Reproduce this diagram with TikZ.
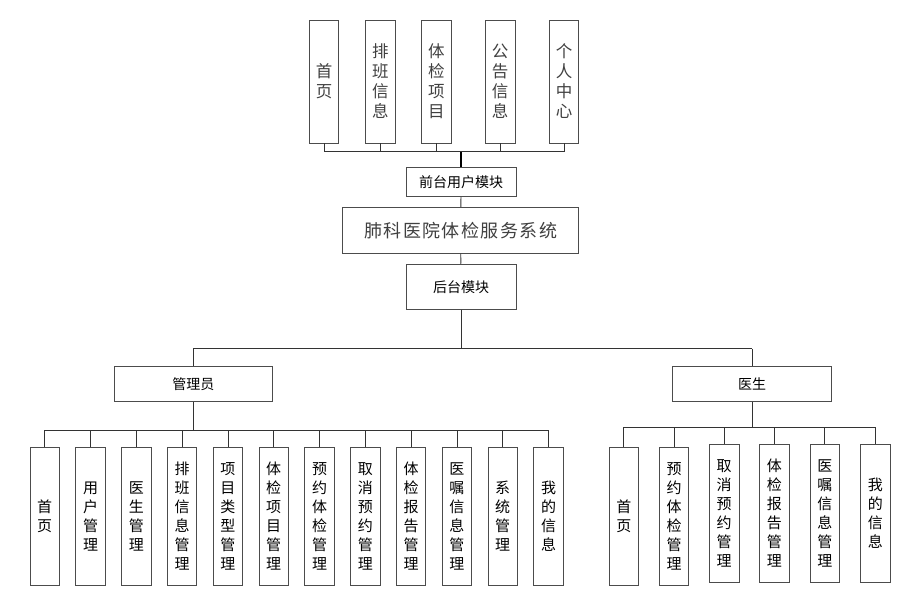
\documentclass[tikz,border=0pt]{standalone}
\usepackage{fontspec}
\newfontfamily\cjk{Noto Sans CJK SC}
\newfontfamily\cjkwide[LetterSpace=8]{Noto Sans CJK SC}
\begin{document}
\begin{tikzpicture}[x=1pt,y=-1pt,
  box/.style={draw=black!70, line width=0.9pt, fill=white, inner sep=0pt, align=center, font=\cjk},
  tall/.style={box, minimum width=29.5pt, minimum height=123pt, text=black!75, font=\cjk\fontsize{16.5}{20}\selectfont},
  leaf/.style={box, minimum width=29.5pt, minimum height=137.7pt, font=\cjk\fontsize{15}{19}\selectfont},
  mid/.style={box, font=\cjk\fontsize{14}{16}\selectfont},
  wire/.style={draw=black!80, line width=0.8pt},
  thick wire/.style={draw=black, line width=1.8pt}
]
\useasboundingbox (0,0) rectangle (911,604);
% top level
\node[tall] (t1) at (324,81.5) {首\\页};
\node[tall] (t2) at (380.3,81.5) {排\\班\\信\\息};
\node[tall] (t3) at (436.3,81.5) {体\\检\\项\\目};
\node[tall] (t4) at (500.2,81.5) {公\\告\\信\\息};
\node[tall] (t5) at (564,81.5) {个\\人\\中\\心};
\node[mid, minimum width=110pt, minimum height=29pt] (qt) at (461,182.2) {前台用户模块};
\node[box, minimum width=236pt, minimum height=46pt, font=\cjkwide\fontsize{18}{20}\selectfont, text=black!75] (sys) at (460.7,230.3) {肺科医院体检服务系统};
\node[mid, minimum width=110pt, minimum height=45pt] (ht) at (461,286.7) {后台模块};
\node[mid, minimum width=158pt, minimum height=35pt] (adm) at (193.3,384.2) {管理员};
\node[mid, minimum width=158.6pt, minimum height=35pt] (doc) at (752,384.2) {医生};
% admin leaves
\node[leaf] (a1) at (44.7,516.2) {首\\页};
\node[leaf] (a2) at (90.5,516.2) {用\\户\\管\\理};
\node[leaf] (a3) at (136.3,516.2) {医\\生\\管\\理};
\node[leaf] (a4) at (182.1,516.2) {排\\班\\信\\息\\管\\理};
\node[leaf] (a5) at (227.9,516.2) {项\\目\\类\\型\\管\\理};
\node[leaf] (a6) at (273.7,516.2) {体\\检\\项\\目\\管\\理};
\node[leaf] (a7) at (319.5,516.2) {预\\约\\体\\检\\管\\理};
\node[leaf] (a8) at (365.3,516.2) {取\\消\\预\\约\\管\\理};
\node[leaf] (a9) at (411.1,516.2) {体\\检\\报\\告\\管\\理};
\node[leaf] (a10) at (456.9,516.2) {医\\嘱\\信\\息\\管\\理};
\node[leaf] (a11) at (502.7,516.2) {系\\统\\管\\理};
\node[leaf] (a12) at (548.5,516.2) {我\\的\\信\\息};
% doctor leaves
\node[leaf] (d1) at (623.8,516.2) {首\\页};
\node[leaf] (d2) at (674,516.2) {预\\约\\体\\检\\管\\理};
\node[leaf] (d3) at (724.2,513.3) {取\\消\\预\\约\\管\\理};
\node[leaf] (d4) at (774.3,513.3) {体\\检\\报\\告\\管\\理};
\node[leaf] (d5) at (824.8,513.3) {医\\嘱\\信\\息\\管\\理};
\node[leaf] (d6) at (875.3,513.3) {我\\的\\信\\息};
% bus coordinates
\coordinate (tb) at (0,151.7);
\coordinate (mb) at (0,348.7);
\coordinate (ab) at (0,430.3);
\coordinate (db) at (0,427);
% top connectors
\foreach \n in {t1,t2,t3,t4,t5} \draw[wire] (\n.south) -- (\n.south |- tb);
\draw[wire] (t1.south |- tb) -- (t5.south |- tb);
\draw[thick wire] (qt.north) -- (qt.north |- tb);
\draw[wire] (qt) -- (sys);
\draw[wire] (sys) -- (ht);
% main split
\draw[wire] (ht.south) -- (ht.south |- mb);
\draw[wire] (adm.north |- mb) -- (doc.north |- mb);
\draw[wire] (adm.north |- mb) -- (adm.north);
\draw[wire] (doc.north |- mb) -- (doc.north);
% admin
\draw[wire] (adm.south) -- (adm.south |- ab);
\draw[wire] (a1.north |- ab) -- (a12.north |- ab);
\foreach \n in {a1,a2,a3,a4,a5,a6,a7,a8,a9,a10,a11,a12} \draw[wire] (\n.north |- ab) -- (\n.north);
% doctor
\draw[wire] (doc.south) -- (doc.south |- db);
\draw[wire] (d1.north |- db) -- (d6.north |- db);
\foreach \n in {d1,d2,d3,d4,d5,d6} \draw[wire] (\n.north |- db) -- (\n.north);
\end{tikzpicture}
\end{document}
